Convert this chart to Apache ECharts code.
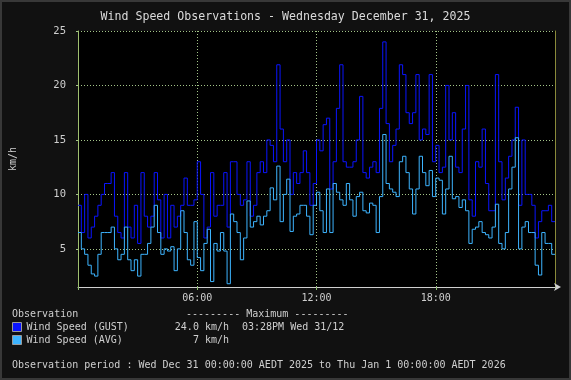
<!DOCTYPE html>
<html>
<head>
<meta charset="utf-8">
<script src="https://cdn.jsdelivr.net/npm/echarts@6/dist/echarts.min.js"></script>
<style>
html,body{margin:0;padding:0;background:#111;}
#chart{width:571px;height:380px;}
</style>
</head>
<body>
<div id="chart"></div>
<script>
// 10-minute samples from 00:00 to 23:50 (km/h)
const stepMinutes = 10;
const gustValues = [
  9, 6.5, 10, 6, 7, 8, 9, 10, 11, 11, 12, 8, 6.5, 6, 12, 7, 6, 9, 5.5, 12, 8, 7, 8, 12,
  9.5, 6, 10, 6, 9, 7, 8, 9, 11.5, 9, 9, 9.5, 13, 10, 6, 7, 12, 8, 9, 9, 12, 7, 13, 13,
  10, 9, 9.5, 13, 8, 9, 12, 13, 12, 15, 14.5, 13, 21.9, 16, 13, 15, 10, 12, 11, 12, 14, 12, 9, 11,
  15, 14, 16.4, 17, 10.5, 13, 17.9, 21.9, 13, 12.5, 12.5, 13, 15, 19, 12, 11.5, 12.5, 13, 12, 17.9, 24.0, 16.5, 13, 14.5,
  16, 21.9, 21, 17.5, 16.5, 17.5, 21, 15, 16, 15.5, 21, 13, 14.5, 12, 12.5, 20, 15, 17.5, 12.5, 12, 16, 20, 9.5, 8,
  13, 12.5, 16, 11, 8.5, 8.5, 21, 13, 9.5, 11.5, 13.5, 15, 18, 9, 15, 10, 10, 9, 6, 7.5, 8.5, 8.5, 9, 7.5
];
const avgValues = [
  6.5, 5, 4.5, 3.5, 2.7, 2.5, 4.5, 6.5, 6.5, 6.5, 7, 5, 4, 4.5, 7, 4, 3, 4, 2.5, 4.5, 4.5, 5.5, 7, 9,
  6.5, 4.5, 5, 4.8, 5.2, 3, 5, 8.5, 6.5, 4, 3.5, 7.5, 4.2, 3, 5.5, 6.8, 2, 5.5, 4.8, 6.5, 4.8, 1.8, 8.2, 7.5,
  6.5, 4, 6, 9.4, 7, 7.5, 8, 7.2, 8, 8.5, 10.6, 9.5, 12.6, 7.5, 10, 11.4, 6.6, 8, 8.2, 9, 9, 8, 6.3, 9,
  10.2, 8.5, 6.5, 10.5, 6.5, 11, 10.2, 9.5, 9, 11, 9.5, 8, 9.8, 10.2, 8.5, 8.3, 9.2, 9, 6.5, 9.8, 15.5, 11, 10.5, 10.2,
  9.8, 13, 13.5, 12, 10.5, 8.2, 10.5, 13.5, 12, 10.8, 12.2, 9.8, 11.5, 11.3, 8.2, 10.5, 13.5, 9.6, 9.8, 8.8, 9.5, 8.5, 5.5, 6.8,
  7, 7.5, 6.5, 6.3, 6, 7, 9.1, 5.5, 5, 6.5, 10.5, 12.5, 15.2, 5, 7, 7.5, 6.5, 6.5, 3.5, 2.6, 6.5, 5.5, 5.5, 4.5
];
const xTickLabels = ['06:00', '12:00', '18:00'];
const yTicks = [5, 10, 15, 20, 25];
const titleText = 'Wind Speed Observations - Wednesday December 31, 2025';
const seriesNames = ['Wind Speed (GUST)', 'Wind Speed (AVG)'];
const maxGustText = '24.0 km/h';
const maxGustTime = '03:28PM Wed 31/12';
const maxAvgText = '7 km/h';
const periodText = 'Observation period : Wed Dec 31 00:00:00 AEDT 2025 to Thu Jan 1 00:00:00 AEDT 2026';

function toPairs(vals) {
  const out = vals.map((v, i) => [i * stepMinutes, v]);
  out.push([vals.length * stepMinutes, vals[vals.length - 1]]);
  return out;
}

const MONO = '"DejaVu Sans Mono", monospace';
const TXT = '#cfcfcf';
const GRIDC = '#a3c488';

const chart = echarts.init(document.getElementById('chart'), null, {renderer: 'canvas'});
chart.setOption({
  animation: false,
  backgroundColor: '#111111',
  title: {
    text: titleText,
    left: 'center',
    top: 6,
    textStyle: {fontFamily: MONO, fontSize: 11.6, fontWeight: 'normal', color: '#dadada'}
  },
  grid: {left: 75, right: 16, top: 31, height: 256, show: true, backgroundColor: '#000000', borderWidth: 0},
  legend: {
    data: seriesNames,
    orient: 'vertical',
    left: 12,
    top: 322,
    padding: 0,
    itemWidth: 9,
    itemHeight: 9,
    itemGap: 3,
    icon: 'rect',
    itemStyle: {borderColor: '#9a9a9a', borderWidth: 1},
    textStyle: {fontFamily: MONO, fontSize: 10, color: TXT, lineHeight: 10},
    selectedMode: false
  },
  xAxis: {
    type: 'value',
    min: 0,
    max: 1440,
    interval: 360,
    axisLine: {show: true, lineStyle: {color: '#d0d0d0', width: 1}, symbol: ['none', 'arrow'], symbolSize: [6, 7], symbolOffset: [0, 6]},
    axisTick: {show: true, length: 3, inside: false, lineStyle: {color: '#8fbf70'}},
    axisLabel: {
      fontFamily: MONO, fontSize: 10, color: TXT, margin: 6,
      formatter: v => (v > 0 && v < 1440) ? xTickLabels[v / 360 - 1] : ''
    },
    splitLine: {show: true, lineStyle: {color: GRIDC, type: [1, 2], width: 1}}
  },
  yAxis: [{
    type: 'value',
    min: 1.5,
    max: 25,
    name: 'km/h',
    nameLocation: 'middle',
    nameRotate: 90,
    nameGap: 60,
    nameTextStyle: {fontFamily: MONO, fontSize: 10, color: TXT},
    axisLine: {show: true, lineStyle: {color: '#9fc070', width: 1}},
    axisTick: {show: true, length: 2, lineStyle: {color: GRIDC}, customValues: yTicks},
    axisLabel: {fontFamily: MONO, fontSize: 10.5, color: TXT, margin: 12, customValues: yTicks},
    splitLine: {show: true, lineStyle: {color: GRIDC, type: [1, 2], width: 1}}
  }, {
    type: 'value',
    position: 'right',
    min: 1.5,
    max: 25,
    axisLine: {show: true, lineStyle: {color: '#8a8a3a', width: 1}},
    axisTick: {show: false},
    axisLabel: {show: false},
    splitLine: {show: false}
  }],
  series: [{
    name: seriesNames[0],
    type: 'line',
    step: 'end',
    data: toPairs(gustValues),
    showSymbol: false,
    symbol: 'none',
    color: '#0a14ff',
    lineStyle: {color: '#0a14ff', width: 1},
    z: 2
  }, {
    name: seriesNames[1],
    type: 'line',
    step: 'end',
    data: toPairs(avgValues),
    showSymbol: false,
    symbol: 'none',
    color: '#3db4ff',
    lineStyle: {color: '#3db4ff', width: 1},
    z: 3
  }],
  graphic: [
    {type: 'rect', shape: {x: 1, y: 1, width: 569, height: 378}, style: {fill: 'none', stroke: '#383838', lineWidth: 2}, silent: true},
    {type: 'text', x: 12, y: 314, style: {text: 'Observation', font: '10px ' + MONO, fill: TXT, textVerticalAlign: 'middle', verticalAlign: 'middle'}},
    {type: 'text', x: 186, y: 314, style: {text: '--------- Maximum ---------', font: '10px ' + MONO, fill: TXT, textVerticalAlign: 'middle', verticalAlign: 'middle'}},
    {type: 'text', x: 229, y: 327, style: {text: maxGustText, font: '10px ' + MONO, fill: TXT, textAlign: 'right', align: 'right', textVerticalAlign: 'middle', verticalAlign: 'middle'}},
    {type: 'text', x: 242, y: 327, style: {text: maxGustTime, font: '10px ' + MONO, fill: TXT, textVerticalAlign: 'middle', verticalAlign: 'middle'}},
    {type: 'text', x: 229, y: 340, style: {text: maxAvgText, font: '10px ' + MONO, fill: TXT, textAlign: 'right', align: 'right', textVerticalAlign: 'middle', verticalAlign: 'middle'}},
    {type: 'text', x: 12, y: 365, style: {text: periodText, font: '10px ' + MONO, fill: TXT, textVerticalAlign: 'middle', verticalAlign: 'middle'}}
  ]
});
</script>
</body>
</html>
